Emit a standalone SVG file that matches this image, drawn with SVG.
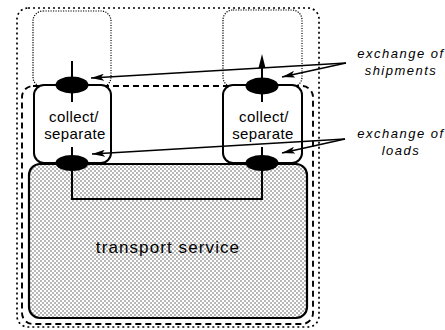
<svg xmlns="http://www.w3.org/2000/svg" width="445" height="330" viewBox="0 0 445 330">
  <style>
    .outer { fill: none; stroke: #000; stroke-width: 1.7; stroke-dasharray: 2 3; }
    .dashed { fill: none; stroke: #000; stroke-width: 1.9; stroke-dasharray: 6 4; }
    .dotted { fill: none; stroke: #000; stroke-width: 1.2; stroke-dasharray: 1.2 1.3; }
    .box { fill: #fff; stroke: #000; stroke-width: 2; }
    .service { fill: url(#halftone); stroke: #000; stroke-width: 2.2; }
    .line { fill: none; stroke: #000; stroke-width: 2; }
    .conn { fill: none; stroke: #000; stroke-width: 1.7; marker-end: url(#head); }
    .port { fill: #000; }
    .lbl { font-family: "Liberation Sans", Arial, sans-serif; fill: #000; text-anchor: middle; }
    .box-lbl { font-size: 15px; letter-spacing: 0.4px; }
    .svc-lbl { font-size: 17px; letter-spacing: 1.1px; }
    .note { font-size: 13px; font-style: italic; letter-spacing: 1.5px; }
  </style>
  <defs>
    <!-- halftone screen used for the service area -->
    <pattern id="halftone" width="4" height="4" patternUnits="userSpaceOnUse">
      <rect width="4" height="4" fill="#fff"/>
      <circle cx="1" cy="1" r="0.65" fill="#333"/>
      <circle cx="3" cy="3" r="0.65" fill="#333"/>
    </pattern>
    <marker id="head" viewBox="0 0 13 7" refX="13" refY="3.5" markerWidth="13" markerHeight="7" markerUnits="userSpaceOnUse" orient="auto">
      <path d="M0,0 L13,3.5 L0,7 L3,3.5 z" fill="#000"/>
    </marker>
  </defs>

  <rect width="445" height="330" fill="#fff"/>

  <!-- enclosing boundaries -->
  <g id="outer-boundary">
    <rect class="outer" x="17" y="8" width="302" height="319" rx="11"/>
  </g>
  <g id="inner-boundary">
    <rect class="dashed" x="22" y="86" width="291" height="238" rx="11"/>
  </g>

  <!-- upper partner areas -->
  <g id="partner-left">
    <rect class="dotted" x="33" y="11" width="78" height="76" rx="10"/>
  </g>
  <g id="partner-right">
    <rect class="dotted" x="223" y="10" width="79" height="77" rx="10"/>
  </g>

  <!-- transport service -->
  <g id="transport-service">
    <rect class="service" x="29" y="164" width="278" height="154" rx="11"/>
    <polyline class="line" points="72,164 72,199 262,199 262,164"/>
    <text class="lbl svc-lbl" x="168" y="253">transport service</text>
  </g>

  <!-- collect / separate units -->
  <g id="collect-left">
    <rect class="box" x="34" y="85" width="77" height="78" rx="10"/>
    <text class="lbl box-lbl" x="74" y="122">collect/</text>
    <text class="lbl box-lbl" x="75" y="139">separate</text>
  </g>
  <g id="collect-right">
    <rect class="box" x="223" y="85" width="79" height="78" rx="10"/>
    <text class="lbl box-lbl" x="264" y="122">collect/</text>
    <text class="lbl box-lbl" x="263" y="139">separate</text>
  </g>

  <!-- exchange points -->
  <g id="port-left-top">
    <line class="line" x1="72" y1="61" x2="72" y2="102"/>
    <ellipse class="port" cx="72" cy="85" rx="16.5" ry="8.5"/>
  </g>
  <g id="port-right-top">
    <line class="line" x1="262" y1="66" x2="262" y2="102"/>
    <path class="port" d="M262,54 L265.5,68 L258.5,68 z"/>
    <ellipse class="port" cx="262" cy="86" rx="16.5" ry="8.5"/>
  </g>
  <g id="port-left-bottom">
    <line class="line" x1="72" y1="147" x2="72" y2="170"/>
    <ellipse class="port" cx="72" cy="163" rx="16.5" ry="8"/>
  </g>
  <g id="port-right-bottom">
    <line class="line" x1="262" y1="147" x2="262" y2="170"/>
    <ellipse class="port" cx="262" cy="163" rx="16.5" ry="8"/>
  </g>

  <!-- labels -->
  <g id="note-shipments">
    <text class="lbl note" x="401" y="58">exchange of</text>
    <text class="lbl note" x="401" y="75">shipments</text>
  </g>
  <g id="note-loads">
    <text class="lbl note" x="401" y="138">exchange of</text>
    <text class="lbl note" x="401" y="155">loads</text>
  </g>

  <!-- connectors -->
  <g id="connectors">
    <line class="conn" x1="346" y1="63" x2="91" y2="78"/>
    <line class="conn" x1="346" y1="63" x2="282" y2="77"/>
    <line class="conn" x1="345" y1="139" x2="92" y2="154"/>
    <line class="conn" x1="345" y1="139" x2="282" y2="153"/>
  </g>
</svg>
